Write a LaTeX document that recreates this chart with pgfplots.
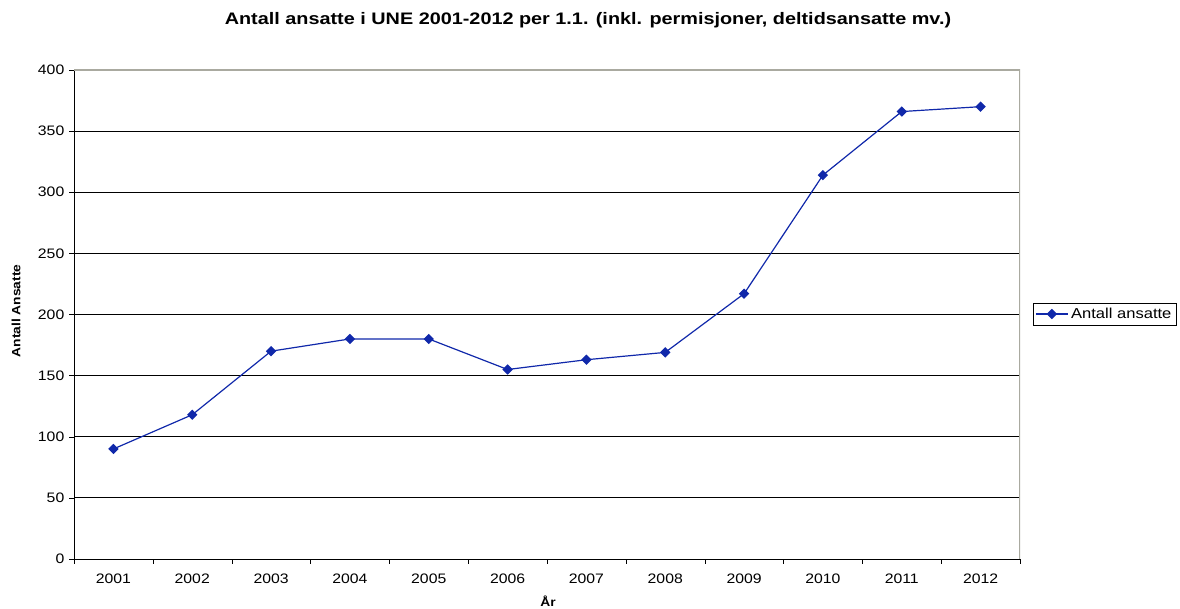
\documentclass[border=0pt]{standalone}
\usepackage{fontspec}
\setmainfont[FakeStretch=1.15]{Liberation Sans}
\newfontfamily\titlefont[FakeStretch=1.19]{Liberation Sans}
\usepackage{pgfplots}
\pgfplotsset{compat=1.18}
\definecolor{ser}{RGB}{16,40,170}
\definecolor{frm}{RGB}{170,170,160}
\begin{document}
\begin{tikzpicture}[x=0.75pt,y=0.75pt]
\path (0,0) rectangle (1180,609);
\node[font=\titlefont\bfseries\fontsize{12.5}{14}\selectfont, anchor=base, inner sep=0pt] at (588,584) {Antall ansatte i UNE 2001-2012 per 1.1. (inkl. permisjoner, deltidsansatte mv.)};
\node[font=\bfseries\fontsize{9}{11}\selectfont,rotate=90] at (16,298) {Antall Ansatte};
\node[font=\bfseries\fontsize{9}{11}\selectfont, anchor=base, inner sep=0pt] at (548,2) {År};
\begin{axis}[
  at={(55.5pt,37.5pt)}, anchor=south west,
  scale only axis, width=709.5pt, height=366.75pt,
  xmin=-0.5, xmax=11.5, ymin=0, ymax=400,
  axis x line*=bottom, axis y line*=left,
  axis line style={black, -},
  xtick={0,...,11},
  xticklabels={2001,2002,2003,2004,2005,2006,2007,2008,2009,2010,2011,2012},
  minor xtick={-0.5,0.5,...,11.5},
  major x tick style={draw=none},
  minor x tick style={black},
  ytick={0,50,...,400},
  ymajorgrids, major grid style={black, line width=0.6pt},
  tick align=outside, tick style={black},
  major tick length=3.75pt, minor tick length=3.75pt,
  ticklabel style={font=\fontsize{10.3}{12}\selectfont},
  xticklabel style={yshift=-4pt},
  /pgf/number format/assume math mode=true,
  legend style={at={(1.0137,0.501)}, anchor=west, draw=black, font=\fontsize{10.8}{12}\selectfont, inner sep=1.5pt, row sep=0pt},
  legend cell align=left,
  legend image code/.code={\draw[mark repeat=2,mark phase=2,#1] plot coordinates {(0pt,0pt) (12pt,0pt) (24pt,0pt)};},
]
\draw[frm, line width=1pt] (rel axis cs:0,1) -- (rel axis cs:1,1) -- (rel axis cs:1,0);
\addplot[ser, line width=0.9pt, mark=square*, mark size=2.3pt, mark options={fill=ser, draw=ser, rotate=45}]
coordinates {(0,90) (1,118) (2,170) (3,180) (4,180) (5,155) (6,163) (7,169) (8,217) (9,314) (10,366) (11,370)};
\addlegendentry{Antall ansatte}
\end{axis}
\end{tikzpicture}
\end{document}
